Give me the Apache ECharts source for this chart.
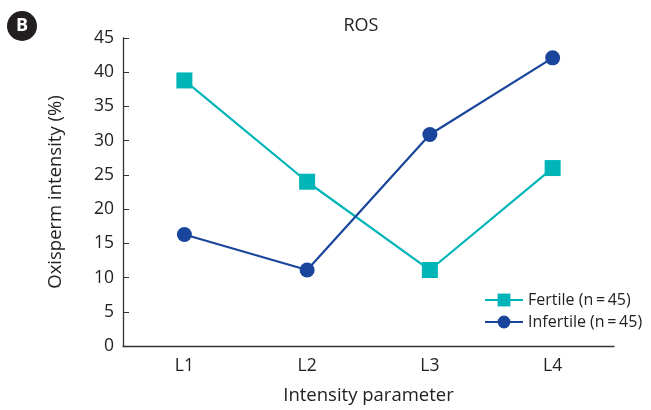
<!DOCTYPE html>
<html>
<head>
<meta charset="utf-8">
<script src="https://cdn.jsdelivr.net/npm/echarts@6/dist/echarts.min.js"></script>
<style>html,body{margin:0;padding:0;background:#fff}#c{width:651px;height:410px}</style>
</head>
<body>
<div id="c"></div>
<script>
const categories = ['L1', 'L2', 'L3', 'L4'];
const fertile = [38.8, 24.0, 11.1, 26.0];
const infertile = [16.3, 11.1, 30.9, 42.1];
const yTicks = [0, 5, 10, 15, 20, 25, 30, 35, 40, 45];

const font = 'Open Sans';
const chart = echarts.init(document.getElementById('c'));
chart.setOption({
  animation: false,
  textStyle: { fontFamily: font },
  title: {
    text: 'ROS', left: 356, top: 12, textAlign: 'center',
    textStyle: { fontFamily: font, fontSize: 18, fontWeight: 'normal', color: '#222' }
  },
  graphic: [
    { type: 'circle', shape: { cx: 22, cy: 26, r: 15 }, style: { fill: '#231f20' } },
    { type: 'text', x: 22, y: 26, style: { text: 'B', fill: '#fff', font: 'bold 18px ' + font, textAlign: 'center', textVerticalAlign: 'middle' } }
  ],
  grid: { left: 123, right: 37, top: 38, bottom: 60 },
  legend: {
    orient: 'vertical', left: 479, top: 287, itemGap: 6, itemWidth: 38, itemHeight: 16,
    textStyle: { fontFamily: font, fontSize: 16, color: '#222' },
    data: ['Fertile (n\u2009=\u200945)', 'Infertile (n\u2009=\u200945)']
  },
  xAxis: {
    type: 'category', data: categories, boundaryGap: true,
    name: 'Intensity parameter', nameLocation: 'middle', nameGap: 40,
    nameTextStyle: { fontFamily: font, fontSize: 18.5, color: '#222' },
    axisLine: { lineStyle: { color: '#333', width: 1.3 } },
    axisTick: { inside: true, alignWithLabel: true, length: 6, lineStyle: { color: '#333' } },
    axisLabel: { fontFamily: font, fontSize: 17.5, color: '#222', margin: 11 }
  },
  yAxis: {
    type: 'value', min: 0, max: 45, interval: 5,
    name: 'Oxisperm intensity (%)', nameLocation: 'middle', nameGap: 58, nameRotate: 90,
    nameTextStyle: { fontFamily: font, fontSize: 18.5, color: '#222' },
    axisLine: { show: true, lineStyle: { color: '#333', width: 1.3 } },
    axisTick: { show: true, inside: true, length: 6, lineStyle: { color: '#333' } },
    splitLine: { show: false },
    axisLabel: { fontFamily: font, fontSize: 17.5, color: '#222', margin: 9,
      formatter: v => yTicks.includes(v) ? String(v) : '' }
  },
  series: [
    {
      name: 'Fertile (n\u2009=\u200945)', type: 'line', data: fertile,
      symbol: 'rect', symbolSize: 16,
      lineStyle: { color: '#00b5b8', width: 2.2 },
      itemStyle: { color: '#00b5b8' }
    },
    {
      name: 'Infertile (n\u2009=\u200945)', type: 'line', data: infertile,
      symbol: 'circle', symbolSize: 15,
      lineStyle: { color: '#1a459c', width: 2.2 },
      itemStyle: { color: '#1a459c' }
    }
  ]
});
</script>
</body>
</html>
